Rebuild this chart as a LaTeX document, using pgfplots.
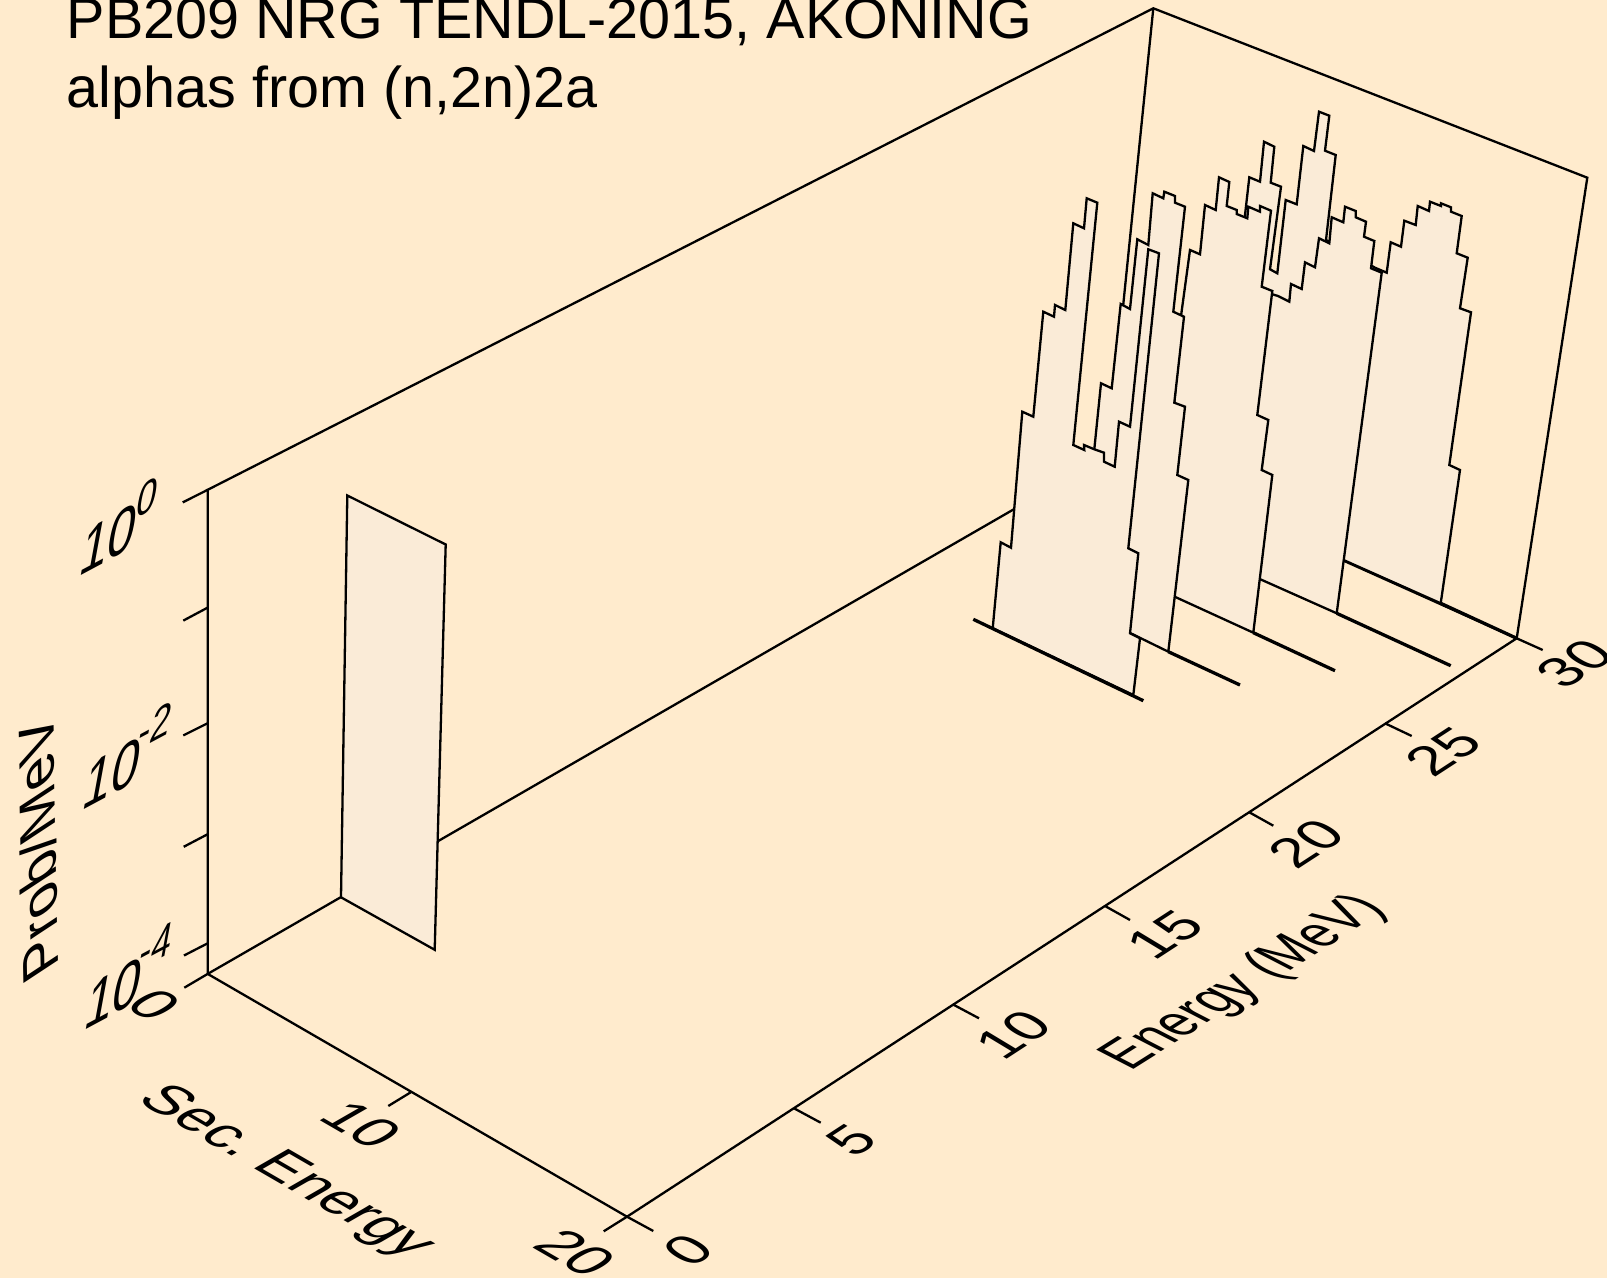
\documentclass[border=0pt]{standalone}
\usepackage{fontspec}
\setmainfont{Liberation Sans}
\frenchspacing
\usepackage{pgfplots}
\pgfplotsset{compat=1.18}
\definecolor{bg}{HTML}{FFEBCD}
\definecolor{panel}{HTML}{FAEBD7}
\tikzset{
  ln/.style={black,solid,line width=1.15pt,mark=none},
  base/.style={black,solid,line width=1.65pt,mark=none},
  pan/.style={fill=panel,draw=black,solid,line width=1.15pt,mark=none},
  lab/.style={font=\fontsize{28.5}{34}\selectfont,inner sep=0pt,outer sep=0pt,anchor=center,transform shape},
  sup/.style={font=\fontsize{20.5}{24}\selectfont,inner sep=0pt,outer sep=0pt,anchor=center,transform shape},
  floorS/.style={cm={.885,-.512,.87,.5,(0,0)}},
  floorE/.style={cm={.83,.54,-.83,.50,(0,0)}},
  wall/.style={cm={.87,.465,.22,1.2,(0,0)}},
}
\begin{document}
\begin{tikzpicture}
\path[use as bounding box,clip] (0,0) rectangle (803.5pt,639pt);
\begin{axis}[at={(0,0)},anchor=south west,scale only axis,width=803.5pt,height=639pt,
  xmin=0,xmax=1607,ymin=0,ymax=1278,y dir=reverse,hide axis,clip=true]
\addplot[fill=bg,draw=none] coordinates {(0,0)(1607,0)(1607,1278)(0,1278)} -- cycle;
% frame
\addplot[ln] coordinates {(207.7,973.9)(207.7,489.8)(1153.3,8.3)(1587.3,177.7)(1516.7,638.3)};
\addplot[ln] coordinates {(207.7,973.9)(1108,455)(1542.7,650)};
\addplot[ln] coordinates {(1153.3,8.3)(1108,455)};
\addplot[ln] coordinates {(184.3,987.7)(207.7,973.9)(627,1216.7)(653.3,1231)};
\addplot[ln] coordinates {(603.7,1231.3)(627,1216.7)(1516.7,638.3)};
% ticks
\addplot[ln] coordinates {(182.7,502.4)(207.7,489.8)};
\addplot[ln] coordinates {(183.3,620.6)(207.7,607.6)};
\addplot[ln] coordinates {(183.3,735.4)(207.7,723.2)};
\addplot[ln] coordinates {(183.7,846.8)(207.7,834.2)};
\addplot[ln] coordinates {(184,955.5)(207.7,943.3)};
\addplot[ln] coordinates {(388.3,1106)(410.7,1092.3)};
\addplot[ln] coordinates {(794,1108.3)(820.7,1122.7)};
\addplot[ln] coordinates {(952.7,1004.3)(979,1018.3)};
\addplot[ln] coordinates {(1105,906)(1130,920)};
\addplot[ln] coordinates {(1249.3,812.3)(1273.3,825.7)};
\addplot[ln] coordinates {(1385,723.3)(1411.7,736)};
% panel at low energy
\addplot[pan] coordinates {(347.3,495.5)(445.7,544.5)(434.7,949.8)(341,897.3)} -- cycle;
% back panel (F)
\addplot[base] coordinates {(1440.7,603.3)(1516.7,638.3)};
\addplot[pan] coordinates {(1220,505)(1245,215)(1249.3,177.3)(1260,181.7)(1264,141.7)(1274.3,146.7)(1270.7,182.7)(1281,186.7)(1270,269.3)(1277.3,273.3)(1285.7,200)(1296.7,204.3)(1303.3,146)(1314,151)(1319,111.7)(1329.3,115.7)(1325,150.7)(1335.7,155)(1326,240)(1375,267.7)(1386.7,272.7)(1390.7,242.3)(1401,246.7)(1404.3,220.7)(1415.7,225)(1417.7,206)(1429,211)(1430,201.7)(1441,206)(1441,203.3)(1451,207.3)(1451,211.7)(1461.7,216)(1456.7,253.3)(1467.7,257.7)(1460,308.3)(1471,312.3)(1449.3,465)(1460,470)(1440.7,603.3)} -- cycle;
% panel E
\addplot[base] coordinates {(1336.7,613.3)(1450.7,665.7)};
\addplot[pan] coordinates {(1235,568)(1255,289)(1278,296)(1289.3,301.7)(1291,284)(1301.7,289)(1305,262.3)(1315,267.3)(1319,238.3)(1329.3,243.3)(1331.7,217.3)(1343.3,222.3)(1345,206.7)(1355.7,211)(1355.7,217.3)(1366,221.7)(1364,236.7)(1374.3,241)(1371,268.3)(1381.7,272.7)(1336.7,613.3)} -- cycle;
% panel C
\addplot[base] coordinates {(1253.3,632.7)(1335,670.7)};
\addplot[pan] coordinates {(1160,590)(1181,316)(1190,250)(1200,254.3)(1205,205)(1215.7,210)(1219,177.3)(1229.3,182)(1226.7,206)(1236.7,210)(1236.7,214)(1247.3,218.3)(1248.3,206.7)(1260,211.7)(1260,206)(1271,210.7)(1261.7,286.7)(1272.3,291)(1257.3,415)(1268.3,420)(1261.7,470)(1272.3,475)(1253.3,632.7)} -- cycle;
% panel B
\addplot[base] coordinates {(1168.3,651.7)(1240,685)};
\addplot[pan] coordinates {(1075,606)(1094.3,449.3)(1101,383.3)(1111.7,388.3)(1120.7,304)(1130,309)(1137.3,239.3)(1148.3,245)(1152.7,193.3)(1163.3,198.3)(1164.3,191.7)(1175,196)(1175,202.7)(1185,206.7)(1173.3,311.7)(1184,316.7)(1174.3,402.7)(1185,406.7)(1177.3,475)(1188.3,480)(1168.3,651.7)} -- cycle;
% panel A
\addplot[pan] coordinates {(992.7,628.3)(1000.7,542.3)(1011,547.7)(1022.3,411.7)(1033.3,416.7)(1043.3,311.7)(1054,316.7)(1055,305)(1065.3,310)(1073.3,223.3)(1084,228.3)(1086.7,198.3)(1097.3,202.7)(1073.3,445)(1084.3,450)(1084,445)(1094.3,449.3)(1104,452.7)(1104,461.7)(1114.7,466.7)(1119,421.7)(1130,426.7)(1148.3,249.3)(1159,253.3)(1128.3,548.3)(1138.3,553.3)(1130,633.3)(1140,638.3)(1133.3,695)} -- cycle;
\addplot[base] coordinates {(973.3,619.3)(1143.3,700.7)};
% title
\node[font=\fontsize{28.75}{34}\selectfont,anchor=base west,inner sep=0pt] at (axis cs:66.5,38.5) {PB209 NRG TENDL-2015, AKONING};
\node[font=\fontsize{28.75}{34}\selectfont,anchor=base west,inner sep=0pt] at (axis cs:66.5,107.5) {alphas from (n,2n)2a};
% z axis
\node[lab,wall] at (axis cs:109,539) {10};
\node[sup,wall] at (axis cs:147.7,497.4) {0};
\node[lab,wall] at (axis cs:112.5,773) {10};
\node[sup,wall] at (axis cs:156,725) {-2};
\node[lab,wall] at (axis cs:114,993) {10};
\node[sup,wall] at (axis cs:156.7,945) {-4};
\node[lab,cm={-.02,1.01,-.88,-.58,(0,0)}] at (axis cs:38,849) {Prob/MeV};
% secondary energy axis
\node[lab,floorS] at (axis cs:155,1005) {0};
\node[lab,floorS] at (axis cs:361.7,1125) {10};
\node[lab,floorS] at (axis cs:575.7,1253) {20};
\node[lab,floorS] at (axis cs:285,1173) {Sec. Energy};
% energy axis
\node[lab,floorE] at (axis cs:688,1250) {0};
\node[lab,floorE] at (axis cs:851.7,1140) {5};
\node[lab,floorE] at (axis cs:1013.3,1035) {10};
\node[lab,floorE] at (axis cs:1165,935) {15};
\node[lab,floorE] at (axis cs:1306.7,843.3) {20};
\node[lab,floorE] at (axis cs:1443.3,751.7) {25};
\node[lab,floorE] at (axis cs:1575,663.3) {30};
\node[lab,cm={.73,.46,-.95,.49,(0,0)}] at (axis cs:1245,983) {Energy (MeV)};
\end{axis}
\end{tikzpicture}
\end{document}
